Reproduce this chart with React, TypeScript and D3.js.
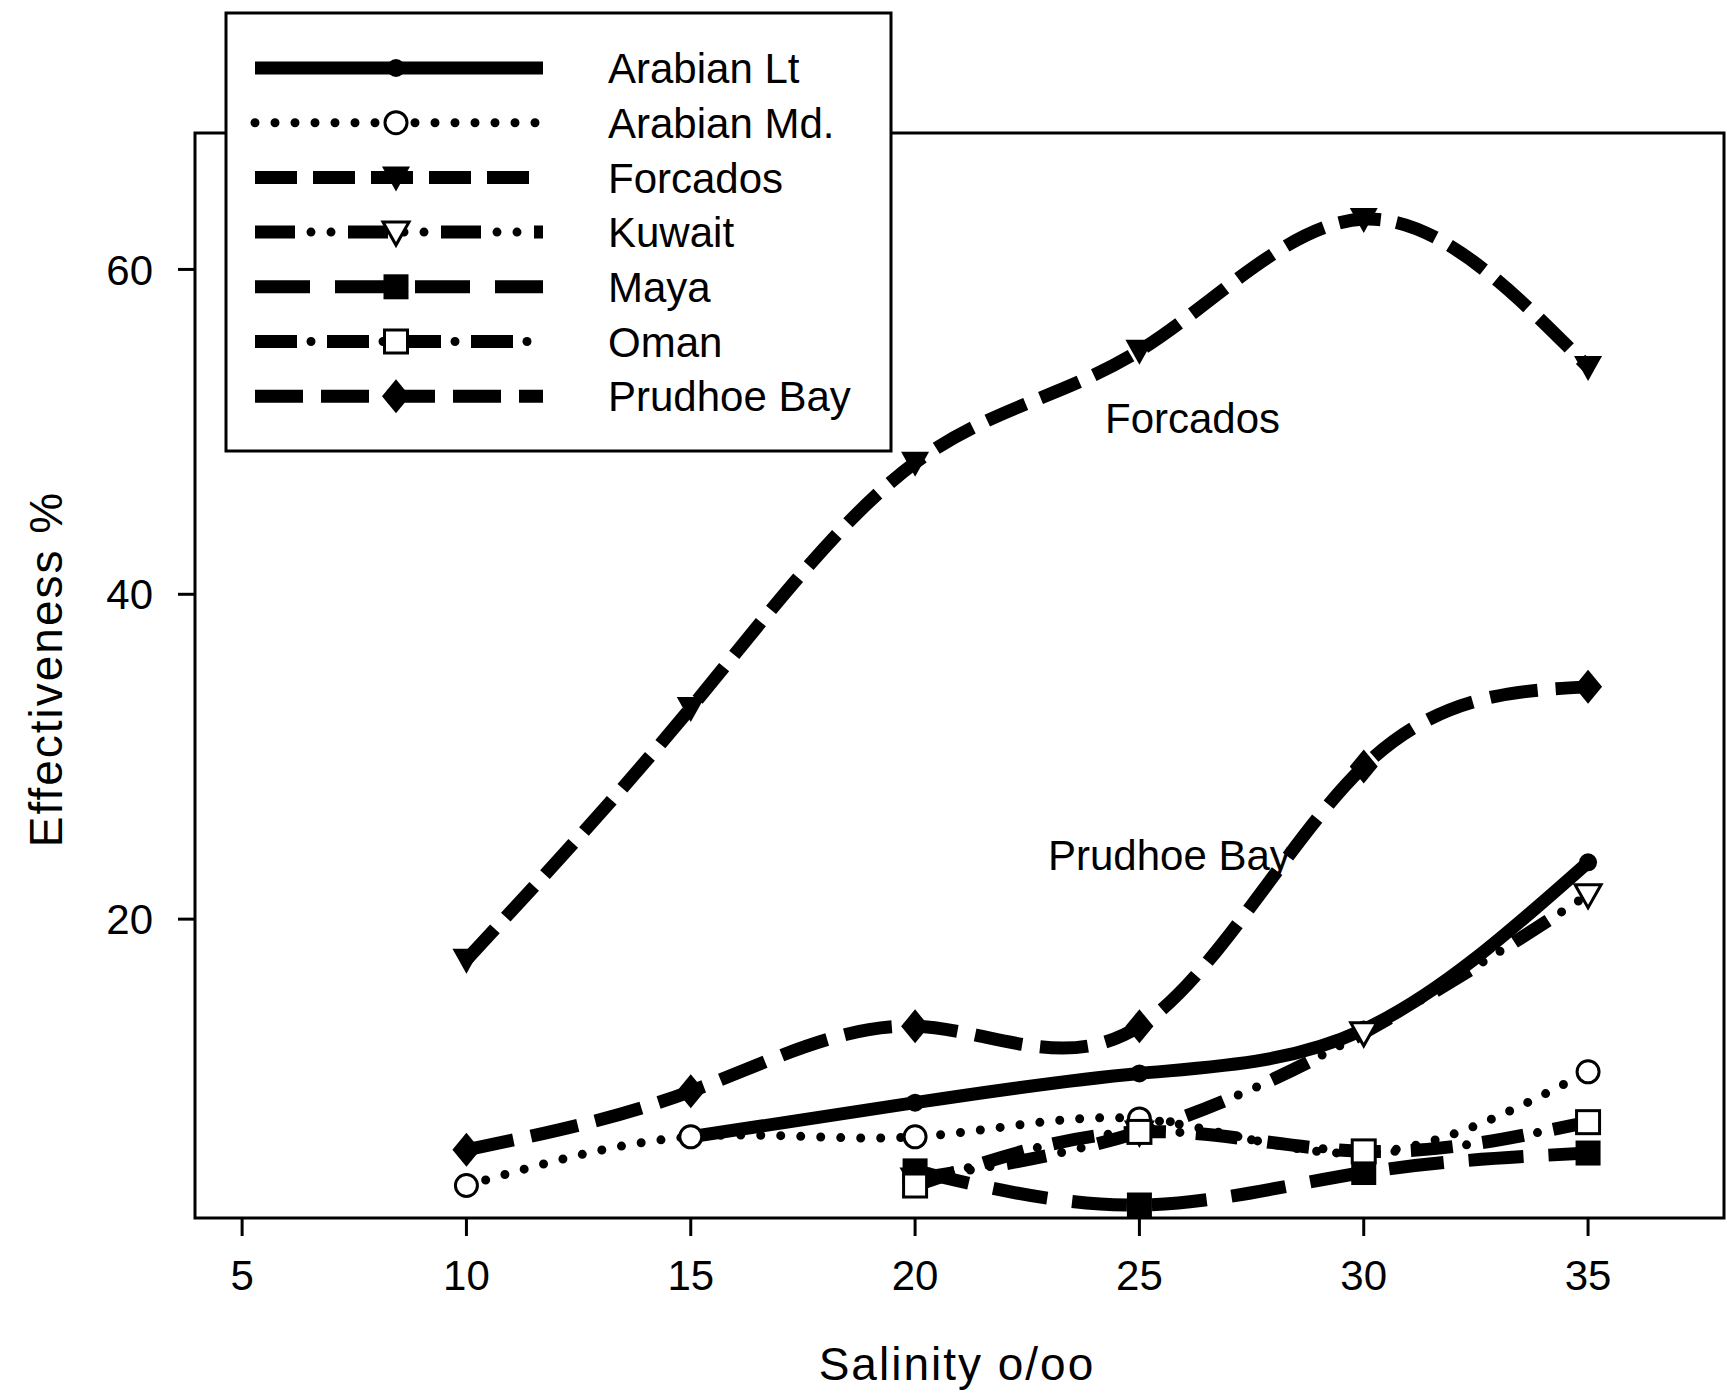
import React from 'react';
import * as d3 from 'd3';

// salinity (x) and effectiveness % per crude oil
const salinity = [10, 15, 20, 25, 30, 35];
const arabianLt = [null, 6.6, 8.7, 10.5, 13.2, 23.5];
const arabianMd = [3.6, 6.6, 6.6, 7.7, 5.6, 10.6];
const forcados = [17.5, 33.0, 48.1, 55.0, 63.1, 54.0];
const kuwait = [null, null, 4.0, 6.9, 13.0, 21.5];
const maya = [null, null, 4.5, 2.4, 4.4, 5.6];
const oman = [null, null, 3.6, 6.9, 5.7, 7.5];
const prudhoeBay = [5.8, 9.4, 13.4, 13.4, 29.4, 34.3];

const seriesNames = ['Arabian Lt', 'Arabian Md.', 'Forcados', 'Kuwait', 'Maya', 'Oman', 'Prudhoe Bay'];
const seriesValues = [arabianLt, arabianMd, forcados, kuwait, maya, oman, prudhoeBay];

const xTicks = [5, 10, 15, 20, 25, 30, 35];
const yTicks = [20, 40, 60];

const FONT = '"Liberation Sans", Arial, sans-serif';
const W = 1727;
const H = 1396;

const x = d3.scaleLinear().domain([3.95, 38.03]).range([195, 1724]);
const y = d3.scaleLinear().domain([1.6, 68.4]).range([1218, 133]);

type LineStyle = {
  dash?: string | null; // null = solid, 'none' = no thick stroke
  dots?: string;
  dotOffset?: number;
  marker: string;
};

const styles: LineStyle[] = [
  { dash: null, marker: 'circleFilled' },
  { dash: 'none', dots: '0 20', dotOffset: 0, marker: 'circleOpen' },
  { dash: '42 16', marker: 'triFilled' },
  { dash: '40 53', dots: '0 20 0 73', dotOffset: 37, marker: 'triOpen' },
  { dash: '55 25', marker: 'squareFilled' },
  { dash: '42 30', dots: '0 72', dotOffset: 16, marker: 'squareOpen' },
  { dash: '48 18', marker: 'diamond' },
];

const Marker = ({ kind, cx, cy }: { kind: string; cx: number; cy: number }) => {
  switch (kind) {
    case 'circleFilled':
      return <circle cx={cx} cy={cy} r={9} fill="#000" />;
    case 'circleOpen':
      return <circle cx={cx} cy={cy} r={11} fill="#fff" stroke="#000" strokeWidth={3} />;
    case 'triFilled':
      return <path d={`M${cx - 14},${cy - 11}L${cx + 14},${cy - 11}L${cx},${cy + 14}Z`} fill="#000" />;
    case 'triOpen':
      return (
        <path
          d={`M${cx - 13},${cy - 10}L${cx + 13},${cy - 10}L${cx},${cy + 13}Z`}
          fill="#fff"
          stroke="#000"
          strokeWidth={3}
        />
      );
    case 'squareFilled':
      return <rect x={cx - 12.5} y={cy - 12.5} width={25} height={25} fill="#000" />;
    case 'squareOpen':
      return <rect x={cx - 11.5} y={cy - 11.5} width={23} height={23} fill="#fff" stroke="#000" strokeWidth={3} />;
    case 'diamond':
      return <path d={`M${cx},${cy - 17}L${cx + 14},${cy}L${cx},${cy + 17}L${cx - 14},${cy}Z`} fill="#000" />;
    default:
      return null;
  }
};

const StyledPath = ({ d, st }: { d: string; st: LineStyle }) => (
  <g>
    {st.dash !== 'none' && (
      <path
        d={d}
        fill="none"
        stroke="#000"
        strokeWidth={13}
        strokeDasharray={st.dash || undefined}
        strokeLinejoin="round"
      />
    )}
    {st.dots && (
      <path
        d={d}
        fill="none"
        stroke="#000"
        strokeWidth={9}
        strokeLinecap="round"
        strokeDasharray={st.dots}
        strokeDashoffset={st.dotOffset || 0}
      />
    )}
  </g>
);

const line = d3
  .line<[number, number]>()
  .x((d) => x(d[0]))
  .y((d) => y(d[1]))
  .curve(d3.curveNatural);

const App = () => {
  const legendX = 226;
  const legendY = 13;
  const legendW = 665;
  const legendH = 438;
  const rowY = (i: number) => 68 + i * 54.7;

  return (
    <svg
      width={W}
      height={H}
      style={{ position: 'absolute', left: 0, top: 0, background: '#fff' }}
      fontFamily={FONT}
    >
      {/* frame */}
      <rect x={195} y={133} width={1724 - 195} height={1218 - 133} fill="none" stroke="#000" strokeWidth={3} />

      {/* x ticks */}
      {xTicks.map((t) => (
        <g key={'x' + t}>
          <line x1={x(t)} x2={x(t)} y1={1218} y2={1236} stroke="#000" strokeWidth={3} />
          <text x={x(t)} y={1290} textAnchor="middle" fontSize={42}>
            {t}
          </text>
        </g>
      ))}
      {/* y ticks */}
      {yTicks.map((t) => (
        <g key={'y' + t}>
          <line x1={178} x2={195} y1={y(t)} y2={y(t)} stroke="#000" strokeWidth={3} />
          <text x={153} y={y(t)} dy="0.36em" textAnchor="end" fontSize={42}>
            {t}
          </text>
        </g>
      ))}

      <text x={957} y={1380} textAnchor="middle" fontSize={46} letterSpacing={2}>
        Salinity o/oo
      </text>
      <text
        transform={`translate(62,669) rotate(-90)`}
        textAnchor="middle"
        fontSize={46}
        letterSpacing={2}
      >
        Effectiveness %
      </text>

      {/* series */}
      {seriesValues.map((vals, i) => {
        const pts = salinity
          .map((s, j) => [s, vals[j]] as [number, number | null])
          .filter((p) => p[1] != null) as [number, number][];
        return (
          <g key={seriesNames[i]}>
            <StyledPath d={line(pts) || ''} st={styles[i]} />
            {pts.map((p, j) => (
              <Marker key={j} kind={styles[i].marker} cx={x(p[0])} cy={y(p[1])} />
            ))}
          </g>
        );
      })}

      <text x={1105} y={433} fontSize={42}>
        Forcados
      </text>
      <text x={1048} y={870} fontSize={42}>
        Prudhoe Bay
      </text>

      {/* legend */}
      <rect x={legendX} y={legendY} width={legendW} height={legendH} fill="#fff" stroke="#000" strokeWidth={3} />
      {seriesNames.map((name, i) => {
        const ly = rowY(i);
        return (
          <g key={'lg' + name}>
            <StyledPath d={`M255,${ly}L543,${ly}`} st={styles[i]} />
            <Marker kind={styles[i].marker} cx={396} cy={ly} />
            <text x={608} y={ly} dy="0.36em" fontSize={42}>
              {name}
            </text>
          </g>
        );
      })}
    </svg>
  );
};

export default App;
